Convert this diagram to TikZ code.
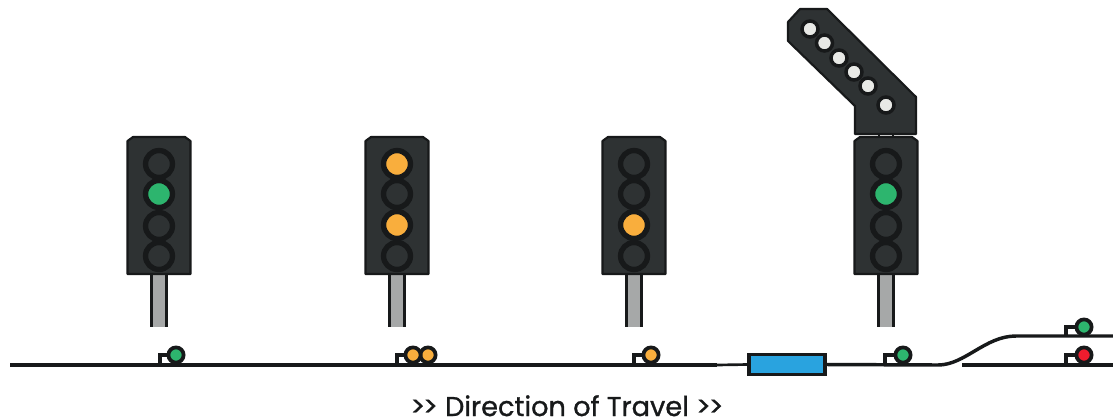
\documentclass[tikz,border=0pt]{standalone}
\usepackage{fontspec}
\setmainfont[FakeBold=1]{Poppins}
\definecolor{body}{HTML}{2E3233}
\definecolor{ink}{HTML}{17191A}
\definecolor{lit}{HTML}{2DB56E}
\definecolor{amber}{HTML}{F9AE3D}
\definecolor{redl}{HTML}{EE1C2E}
\definecolor{white2}{HTML}{E8E9E6}
\definecolor{postc}{HTML}{A6A8A8}
\definecolor{blue2}{HTML}{29A3DF}
\tikzset{
  housing/.style={draw=ink,fill=body,line width=1.6pt,line join=round},
  lampoff/.style={circle,draw=ink,fill=body,line width=4pt,minimum size=20.2pt,inner sep=0pt},
  lampg/.style={lampoff,fill=lit},
  lampa/.style={lampoff,fill=amber},
  feather/.style={circle,draw=ink,fill=white2,line width=2.6pt,minimum size=12pt,inner sep=0pt},
  postfill/.style={fill=postc},
  postline/.style={draw=ink,line width=2.4pt},
  rail/.style={draw=ink,line width=2.6pt},
  railthin/.style={draw=ink,line width=2pt},
  groundg/.style={circle,draw=ink,fill=lit,line width=2.8pt,minimum size=11.4pt,inner sep=0pt},
  grounda/.style={groundg,fill=amber},
  groundr/.style={groundg,fill=redl},
  stem/.style={draw=ink,line width=2.4pt,line join=miter},
  boxb/.style={draw=ink,fill=blue2,line width=2.8pt,minimum width=57pt,minimum height=15pt,inner sep=0pt}
}
\begin{document}
\begin{tikzpicture}[x=0.75pt,y=-0.75pt]
\useasboundingbox (0,0) rectangle (1113,419);
% rails
\coordinate (railL) at (10,365);
\coordinate (railG) at (717,365);
\coordinate (curveS) at (938,365);
\coordinate (curveE) at (1016,336);
\coordinate (endU) at (1113,336);
\coordinate (railC) at (962,365);
\coordinate (endL) at (1113,365);
\node[boxb] (block) at (787,364.5) {};
\draw[rail] (railL) -- (railG);
\draw[railthin] (railG) -- (block.west);
\draw[rail] (block.east) -- (curveS) .. controls (965,365) and (985,336) .. (curveE) -- (endU);
\draw[rail] (railC) -- (endL);
% posts and housings
\foreach \n/\x in {a/159,b/397,c/634,d/886}{
  \fill[postfill] (\x-7.5,275) rectangle (\x+7.5,327);
  \draw[postline] (\x-7.5,275) -- (\x-7.5,327) (\x+7.5,275) -- (\x+7.5,327);
  \draw[housing] (\x-31.5,141) -- (\x-26,137) -- (\x+26,137) -- (\x+31.5,141) -- (\x+31.5,274) -- (\x-31.5,274) -- cycle;
}
% signal heads
\node[lampoff] (a1) at (159,164) {};
\node[lampoff] (a3) at (159,226) {};
\node[lampoff] (a4) at (159,256) {};
\node[lampg] (a2) at (159,194) {};
\node[lampa] (b1) at (397,164) {};
\node[lampoff] (b2) at (397,194) {};
\node[lampoff] (b4) at (397,256) {};
\node[lampa] (b3) at (397,225) {};
\node[lampoff] (c1) at (634,164) {};
\node[lampoff] (c2) at (634,194) {};
\node[lampoff] (c4) at (634,256) {};
\node[lampa] (c3) at (634,225) {};
\node[lampoff] (d1) at (886,164) {};
\node[lampoff] (d3) at (886,226) {};
\node[lampoff] (d4) at (886,256) {};
\node[lampg] (d2) at (886,194) {};
% feather
\draw[housing] (800,9) -- (827,9) -- (916,97) -- (916,134) -- (855,134) -- (855,106) -- (788,41) -- (788,22) -- cycle;
\draw[draw=ink,line width=1pt] (879,134) -- (879,137) (893,134) -- (893,137);
\node[feather] (f1) at (810,29) {};
\node[feather] (f2) at (824.5,43) {};
\node[feather] (f3) at (839,58) {};
\node[feather] (f4) at (854,72) {};
\node[feather] (f5) at (868,86) {};
\node[feather] (f6) at (886,105) {};
% ground signals
\coordinate (s1b) at (160,365); \coordinate (s1t) at (160,355);
\coordinate (s2b) at (397,365); \coordinate (s2t) at (397,355);
\coordinate (s3b) at (634,365); \coordinate (s3t) at (634,355);
\coordinate (s4b) at (885,365); \coordinate (s4t) at (885,355);
\coordinate (s5b) at (1066,336); \coordinate (s5t) at (1066,327);
\coordinate (s6b) at (1066,365); \coordinate (s6t) at (1066,355);
\node[groundg] (g1) at (176,355) {};
\node[grounda] (g2b) at (428,355) {};
\node[grounda] (g2a) at (413,355) {};
\node[grounda] (g3) at (651,355) {};
\node[groundg] (g4) at (903,355) {};
\node[groundg] (g5) at (1084,327) {};
\node[groundr] (g6) at (1084,355) {};
\draw[stem] (s1b) -- (s1t) -- (g1);
\draw[stem] (s2b) -- (s2t) -- (g2a);
\draw[stem] (s3b) -- (s3t) -- (g3);
\draw[stem] (s4b) -- (s4t) -- (g4);
\draw[stem] (s5b) -- (s5t) -- (g5);
\draw[stem] (s6b) -- (s6t) -- (g6);
\node[text=ink,font=\fontsize{20.4}{22}\selectfont,inner sep=0pt,anchor=base] (label) at (567,416) {>\kern-1.5pt> Direction of Travel >\kern-1.5pt>};
\end{tikzpicture}
\end{document}
